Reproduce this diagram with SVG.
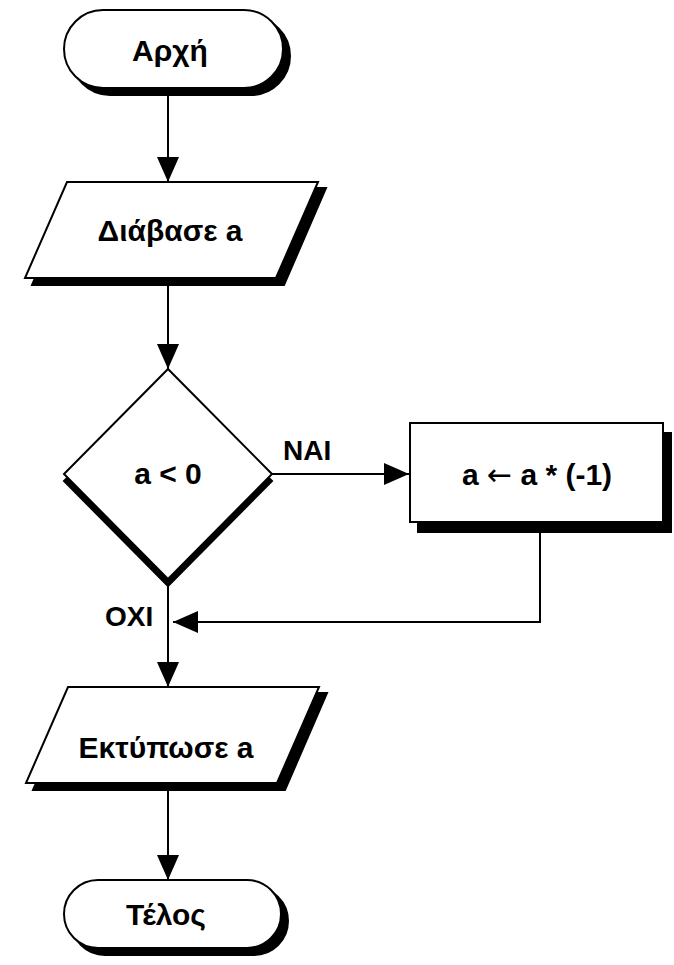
<svg xmlns="http://www.w3.org/2000/svg" width="674" height="965" viewBox="0 0 674 965">
<style>
.shape{fill:#fff;stroke:#000;stroke-width:2}
.shadow{fill:#000;stroke:#000;stroke-width:2}
.lbl{font-family:"Liberation Sans","Noto Sans",Arial,sans-serif;font-weight:bold;font-size:30px;fill:#000;text-anchor:middle}
.edge{font-family:"Liberation Sans","Noto Sans",Arial,sans-serif;font-weight:bold;font-size:28px;fill:#000}
.sym{font-family:"DejaVu Sans",sans-serif;font-weight:normal}
.line{fill:none;stroke:#000;stroke-width:2}
</style>
<defs>
<marker id="arr" viewBox="0 0 25 22" refX="25" refY="11" markerWidth="25" markerHeight="22" markerUnits="userSpaceOnUse" orient="auto">
<path d="M0,0 L25,11 L0,22 Z" fill="#000"/>
</marker>
</defs>
<rect width="674" height="965" fill="#fff"/>
<g id="connectors">
<line class="line" x1="168" y1="95" x2="168" y2="182" marker-end="url(#arr)"/>
<line class="line" x1="168" y1="284" x2="168" y2="369" marker-end="url(#arr)"/>
<line class="line" x1="272" y1="474" x2="409" y2="474" marker-end="url(#arr)"/>
<polyline class="line" points="540,532 540,622 173,622" marker-end="url(#arr)"/>
<line class="line" x1="168" y1="586" x2="168" y2="687" marker-end="url(#arr)"/>
<line class="line" x1="168" y1="789" x2="168" y2="880" marker-end="url(#arr)"/>
<text class="edge" x="283" y="460">NAI</text>
<text class="edge" x="105" y="626">OXI</text>
</g>
<g id="start">
<rect class="shadow" x="71" y="17" width="219" height="78" rx="39"/>
<rect class="shape" x="64" y="10" width="219" height="78" rx="39"/>
<text class="lbl" x="170" y="61">Αρχή</text>
</g>
<g id="read">
<polygon class="shadow" points="74,188 326,188 284,285 32,285"/>
<polygon class="shape" points="67,182 318,182 276,278 25,278"/>
<text class="lbl" x="170" y="241">Διάβασε a</text>
</g>
<g id="decision">
<polygon class="shadow" points="168,376 272,481 168,586 64,481"/>
<polygon class="shape" points="168,369 272,474 168,579 64,474"/>
<text class="lbl" x="168" y="484">a &lt; 0</text>
</g>
<g id="assign">
<rect class="shadow" x="418" y="433" width="253" height="99"/>
<rect class="shape" x="410" y="423" width="253" height="99"/>
<text class="lbl" x="537" y="485">a <tspan class="sym">←</tspan> a * (-1)</text>
</g>
<g id="print">
<polygon class="shadow" points="75,693 327,693 285,790 33,790"/>
<polygon class="shape" points="68,687 319,687 277,783 26,783"/>
<text class="lbl" x="166" y="758">Εκτύπωσε a</text>
</g>
<g id="end">
<rect class="shadow" x="71" y="887" width="217" height="68" rx="34"/>
<rect class="shape" x="64" y="880" width="217" height="68" rx="34"/>
<text class="lbl" x="166" y="925">Τέλος</text>
</g>
</svg>
